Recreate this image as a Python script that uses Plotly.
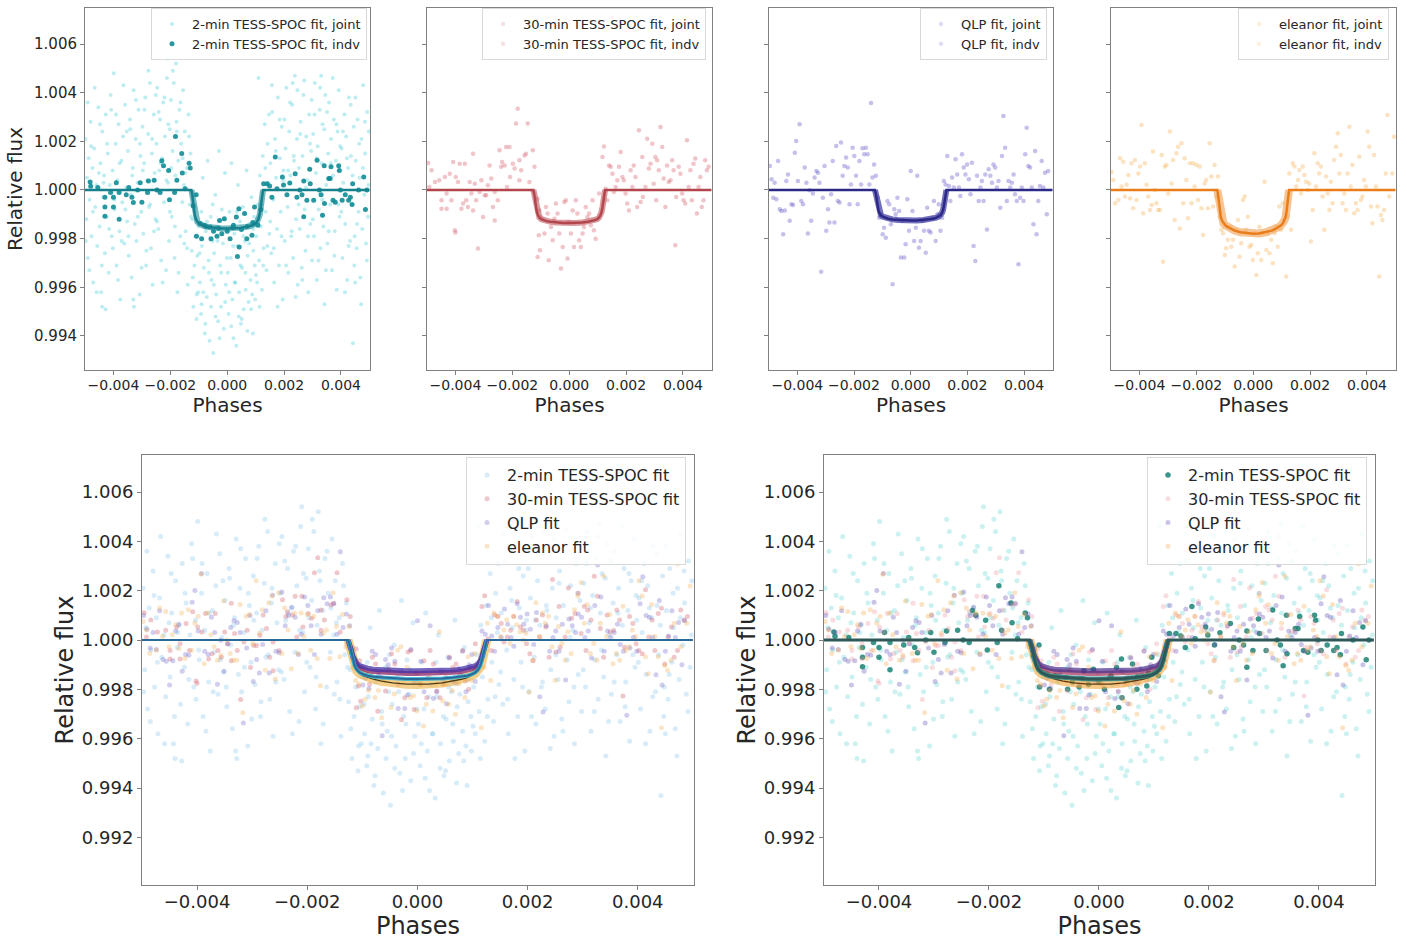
import plotly.graph_objects as go

# ---------------- data (phase, relative flux) ----------------
# 2-min TESS-SPOC, unbinned cloud
cloud2_phase = [
    -4.98e-3, -4.95e-3, -4.93e-3, -4.90e-3, -4.87e-3, -4.84e-3, -4.80e-3, -4.77e-3, -4.74e-3, -4.71e-3, -4.68e-3, -4.64e-3, -4.60e-3, -4.57e-3, -4.53e-3,
    -4.49e-3, -4.46e-3, -4.43e-3, -4.39e-3, -4.36e-3, -4.33e-3, -4.30e-3, -4.27e-3, -4.23e-3, -4.20e-3, -4.17e-3, -4.13e-3, -4.10e-3, -4.06e-3, -4.03e-3,
    -3.99e-3, -3.96e-3, -3.92e-3, -3.89e-3, -3.86e-3, -3.82e-3, -3.79e-3, -3.76e-3, -3.72e-3, -3.69e-3, -3.66e-3, -3.62e-3, -3.59e-3, -3.55e-3, -3.52e-3,
    -3.49e-3, -3.46e-3, -3.42e-3, -3.39e-3, -3.36e-3, -3.32e-3, -3.29e-3, -3.25e-3, -3.22e-3, -3.19e-3, -3.15e-3, -3.12e-3, -3.08e-3, -3.05e-3, -3.02e-3,
    -2.98e-3, -2.95e-3, -2.92e-3, -2.88e-3, -2.85e-3, -2.82e-3, -2.78e-3, -2.75e-3, -2.72e-3, -2.68e-3, -2.65e-3, -2.62e-3, -2.58e-3, -2.55e-3, -2.52e-3,
    -2.49e-3, -2.46e-3, -2.42e-3, -2.39e-3, -2.36e-3, -2.32e-3, -2.29e-3, -2.25e-3, -2.22e-3, -2.19e-3, -2.15e-3, -2.12e-3, -2.08e-3, -2.05e-3, -2.02e-3,
    -1.98e-3, -1.95e-3, -1.92e-3, -1.88e-3, -1.85e-3, -1.82e-3, -1.78e-3, -1.75e-3, -1.72e-3, -1.68e-3, -1.65e-3, -1.62e-3, -1.58e-3, -1.55e-3, -1.52e-3,
    -1.49e-3, -1.46e-3, -1.42e-3, -1.39e-3, -1.36e-3, -1.32e-3, -1.29e-3, -1.25e-3, -1.22e-3, -1.19e-3, -1.15e-3, -1.12e-3, -1.08e-3, -1.05e-3, -1.02e-3,
    -0.99e-3, -0.96e-3, -0.92e-3, -0.89e-3, -0.86e-3, -0.82e-3, -0.79e-3, -0.75e-3, -0.72e-3, -0.69e-3, -0.65e-3, -0.62e-3, -0.58e-3, -0.55e-3, -0.52e-3,
    -0.49e-3, -0.46e-3, -0.42e-3, -0.39e-3, -0.36e-3, -0.32e-3, -0.29e-3, -0.25e-3, -0.22e-3, -0.19e-3, -0.15e-3, -0.12e-3, -0.08e-3, -0.05e-3, -0.02e-3,
    0.02e-3, 0.05e-3, 0.08e-3, 0.12e-3, 0.15e-3, 0.18e-3, 0.22e-3, 0.25e-3, 0.28e-3, 0.32e-3, 0.35e-3, 0.38e-3, 0.42e-3, 0.45e-3, 0.48e-3,
    0.52e-3, 0.55e-3, 0.58e-3, 0.62e-3, 0.65e-3, 0.68e-3, 0.72e-3, 0.75e-3, 0.78e-3, 0.82e-3, 0.85e-3, 0.88e-3, 0.92e-3, 0.95e-3, 0.98e-3,
    1.02e-3, 1.05e-3, 1.08e-3, 1.12e-3, 1.15e-3, 1.18e-3, 1.22e-3, 1.25e-3, 1.28e-3, 1.32e-3, 1.35e-3, 1.38e-3, 1.42e-3, 1.45e-3, 1.48e-3,
    1.52e-3, 1.55e-3, 1.58e-3, 1.62e-3, 1.65e-3, 1.68e-3, 1.72e-3, 1.75e-3, 1.78e-3, 1.82e-3, 1.85e-3, 1.88e-3, 1.92e-3, 1.95e-3, 1.98e-3,
    2.02e-3, 2.05e-3, 2.08e-3, 2.12e-3, 2.15e-3, 2.18e-3, 2.22e-3, 2.25e-3, 2.28e-3, 2.32e-3, 2.35e-3, 2.38e-3, 2.42e-3, 2.45e-3, 2.48e-3,
    2.52e-3, 2.55e-3, 2.58e-3, 2.62e-3, 2.65e-3, 2.68e-3, 2.72e-3, 2.75e-3, 2.78e-3, 2.82e-3, 2.85e-3, 2.88e-3, 2.92e-3, 2.95e-3, 2.98e-3,
    3.02e-3, 3.05e-3, 3.08e-3, 3.12e-3, 3.15e-3, 3.18e-3, 3.22e-3, 3.25e-3, 3.28e-3, 3.32e-3, 3.35e-3, 3.38e-3, 3.42e-3, 3.45e-3, 3.48e-3,
    3.52e-3, 3.55e-3, 3.58e-3, 3.62e-3, 3.65e-3, 3.68e-3, 3.72e-3, 3.75e-3, 3.78e-3, 3.82e-3, 3.85e-3, 3.88e-3, 3.92e-3, 3.95e-3, 3.98e-3,
    4.02e-3, 4.05e-3, 4.08e-3, 4.12e-3, 4.15e-3, 4.18e-3, 4.22e-3, 4.25e-3, 4.28e-3, 4.32e-3, 4.35e-3, 4.38e-3, 4.42e-3, 4.45e-3, 4.48e-3,
    4.52e-3, 4.55e-3, 4.58e-3, 4.62e-3, 4.65e-3, 4.68e-3, 4.72e-3, 4.75e-3, 4.78e-3, 4.82e-3, 4.85e-3, 4.88e-3, 4.92e-3, 4.95e-3, 4.98e-3,
    -2.10e-3, -1.80e-3, 1.10e-3, 2.30e-3, 3.30e-3, -0.90e-3, 0.90e-3, -3.30e-3, 4.50e-3, -4.40e-3,
    -4.97e-3, -4.91e-3, -4.85e-3, -4.78e-3, -4.72e-3, -4.66e-3, -4.59e-3, -4.51e-3,
    -4.47e-3, -4.41e-3, -4.35e-3, -4.28e-3, -4.22e-3, -4.15e-3, -4.08e-3, -4.02e-3,
    -3.97e-3, -3.91e-3, -3.84e-3, -3.78e-3, -3.71e-3, -3.65e-3, -3.58e-3, -3.53e-3,
    -3.47e-3, -3.41e-3, -3.34e-3, -3.28e-3, -3.21e-3, -3.14e-3, -3.07e-3, -3.01e-3,
    -2.97e-3, -2.91e-3, -2.84e-3, -2.77e-3, -2.71e-3, -2.64e-3, -2.57e-3, -2.51e-3,
    -2.47e-3, -2.41e-3, -2.34e-3, -2.27e-3, -2.21e-3, -2.14e-3, -2.07e-3, -2.01e-3,
    -1.97e-3, -1.91e-3, -1.84e-3, -1.77e-3, -1.71e-3, -1.64e-3, -1.57e-3, -1.51e-3,
    -1.47e-3, -1.41e-3, -1.34e-3, -1.27e-3, -1.21e-3, -1.14e-3, -1.07e-3, -1.01e-3,
    -0.97e-3, -0.91e-3, -0.84e-3, -0.77e-3, -0.71e-3, -0.64e-3, -0.57e-3, -0.51e-3,
    -0.47e-3, -0.41e-3, -0.34e-3, -0.27e-3, -0.21e-3, -0.14e-3, -0.07e-3, -0.01e-3,
    0.01e-3, 0.07e-3, 0.14e-3, 0.21e-3, 0.27e-3, 0.34e-3, 0.41e-3, 0.47e-3,
    0.51e-3, 0.57e-3, 0.64e-3, 0.71e-3, 0.77e-3, 0.84e-3, 0.91e-3, 0.97e-3,
    1.01e-3, 1.07e-3, 1.14e-3, 1.21e-3, 1.27e-3, 1.34e-3, 1.41e-3, 1.47e-3,
    1.51e-3, 1.57e-3, 1.64e-3, 1.71e-3, 1.77e-3, 1.84e-3, 1.91e-3, 1.97e-3,
    2.01e-3, 2.07e-3, 2.14e-3, 2.21e-3, 2.27e-3, 2.34e-3, 2.41e-3, 2.47e-3,
    2.51e-3, 2.57e-3, 2.64e-3, 2.71e-3, 2.77e-3, 2.84e-3, 2.91e-3, 2.97e-3,
    3.01e-3, 3.07e-3, 3.14e-3, 3.21e-3, 3.27e-3, 3.34e-3, 3.41e-3, 3.47e-3,
    3.51e-3, 3.57e-3, 3.64e-3, 3.71e-3, 3.77e-3, 3.84e-3, 3.91e-3, 3.97e-3,
    4.01e-3, 4.07e-3, 4.14e-3, 4.21e-3, 4.27e-3, 4.34e-3, 4.41e-3, 4.47e-3,
    4.51e-3, 4.57e-3, 4.64e-3, 4.71e-3, 4.77e-3, 4.84e-3, 4.91e-3, 4.97e-3,
]
cloud2_flux = [
    1.0021, 0.9988, 1.0005, 0.9972, 1.0013, 0.9996, 1.0028, 0.9981, 1.0009, 0.9962, 1.0017, 0.9993, 1.0002, 0.9977, 1.0034,
    0.9985, 1.0011, 0.9958, 1.0024, 0.9997, 1.0006, 0.9974, 1.0031, 0.9989, 1.0015, 0.9966, 1.0002, 1.0039, 0.9981, 1.0008,
    1.0048, 0.9992, 1.0019, 0.9969, 1.0004, 1.0027, 0.9983, 0.9955, 1.0012, 0.9995, 1.0022, 0.9978, 1.0035, 1.0001, 0.9987,
    1.0016, 0.9973, 1.0029, 0.9998, 0.9964, 1.0009, 1.0041, 0.9986, 1.0021, 0.9979, 1.0003, 1.0033, 0.9957, 1.0014, 0.9991,
    1.0026, 0.9982, 1.0011, 1.0038, 0.9969, 1.0004, 1.0023, 0.9993, 1.0044, 0.9976, 1.0015, 0.9961, 1.0031, 1.0007, 0.9988,
    1.0019, 1.0042, 0.9984, 1.0008, 1.0029, 0.9971, 1.0013, 1.0036, 0.9995, 1.0022, 0.9967, 1.0046, 1.0003, 0.9979, 1.0025,
    1.0037, 0.9989, 1.0016, 1.0044, 0.9972, 1.0006, 1.0028, 0.9958, 1.0012, 1.0033, 0.9981, 1.0019, 0.9995, 1.0041, 1.0002,
    1.0024, 0.9983, 1.0009, 0.9961, 1.0031, 0.9994, 1.0015, 0.9975, 0.9988, 0.9952, 0.9969, 0.9981, 0.9947, 0.9973, 0.9958,
    0.9986, 0.9962, 0.9949, 0.9977, 1.0005, 0.9968, 0.9941, 0.9983, 0.9956, 1.0012, 0.9971, 0.9938, 0.9989, 0.9963, 0.9979,
    0.9933, 0.9974, 0.9998, 0.9957, 0.9985, 0.9946, 1.0016, 0.9969, 0.9952, 0.9992, 0.9978, 0.9943, 1.0007, 0.9961, 0.9984,
    0.9966, 0.9949, 0.9991, 0.9972, 1.0011, 0.9955, 0.9939, 0.9982, 0.9962, 0.9936, 0.9977, 1.0002, 0.9958, 0.9987, 0.9945,
    0.9968, 0.9993, 0.9951, 0.9979, 0.9959, 1.0008, 0.9973, 0.9954, 0.9986, 0.9963, 0.9997, 0.9957, 0.9975, 0.9989, 0.9955,
    0.9981, 0.9962, 0.9994, 0.9971, 1.0006, 0.9985, 0.9959, 1.0014, 0.9976, 1.0027, 0.9991, 0.9967, 1.0019, 1.0003, 0.9982,
    1.0011, 0.9974, 1.0032, 0.9996, 0.9962, 1.0021, 1.0005, 0.9984, 1.0038, 0.9969, 1.0013, 0.9991, 1.0026, 0.9955, 1.0008,
    0.9979, 1.0017, 1.0042, 0.9993, 0.9966, 1.0024, 1.0006, 0.9981, 1.0035, 0.9972, 1.0012, 1.0047, 0.9988, 1.0021, 0.9961,
    1.0009, 0.9984, 1.0028, 0.9968, 1.0014, 1.0039, 0.9992, 0.9975, 1.0022, 1.0004, 0.9958, 1.0031, 0.9986, 1.0016, 0.9971,
    1.0023, 0.9981, 1.0044, 1.0007, 0.9963, 1.0018, 0.9992, 1.0033, 0.9976, 1.0011, 1.0027, 0.9985, 0.9953, 1.0039, 1.0002,
    0.9978, 1.0015, 1.0036, 0.9994, 1.0021, 0.9967, 1.0006, 1.0029, 0.9983, 1.0012, 0.9959, 1.0024, 1.0041, 0.9989, 1.0008,
    1.0017, 0.9972, 1.0003, 1.0031, 0.9986, 1.0022, 0.9963, 1.0009, 1.0038, 0.9979, 1.0014, 0.9994, 0.9937, 1.0026, 0.9981,
    1.0012, 0.9976, 1.0029, 0.9991, 1.0005, 0.9964, 1.0021, 0.9984, 1.0043, 0.9998, 1.0015, 0.9978, 1.0032, 0.9989, 1.0024,
    1.0054, 1.0052, 1.0046, 1.0044, 1.0047, 0.9953, 0.9941, 0.9955, 0.9962, 0.9952,
    0.9979, 1.0036, 0.9967, 1.0018, 0.9991, 1.0042, 0.9958, 1.0007,
    1.0027, 0.9969, 1.0003, 0.9951, 1.0019, 0.9984, 1.0033, 0.9976,
    0.9996, 1.0031, 0.9963, 1.0011, 0.9979, 1.0043, 0.9992, 1.0024,
    0.9981, 1.0025, 1.0006, 0.9952, 1.0037, 0.9989, 1.0019, 0.9968,
    1.0008, 1.0033, 0.9975, 1.0049, 0.9994, 1.0021, 0.9983, 1.0039,
    0.9987, 1.0032, 1.0011, 0.9962, 1.0038, 1.0004, 1.0027, 0.9991,
    1.0009, 1.0049, 0.9985, 1.0024, 0.9966, 1.0036, 1.0013, 0.9978,
    1.0007, 0.9976, 1.0022, 0.9989, 0.9964, 0.9993, 0.9957, 0.9985,
    0.9974, 0.9991, 0.9958, 0.9945, 0.9987, 0.9966, 0.9952, 0.9994,
    0.9961, 0.9948, 0.9979, 0.9939, 0.9966, 0.9988, 0.9954, 0.9972,
    0.9983, 0.9958, 0.9944, 0.9977, 0.9962, 0.9991, 0.9948, 0.9969,
    0.9947, 0.9981, 0.9966, 0.9942, 0.9978, 0.9951, 0.9984, 0.9969,
    0.9965, 0.9988, 0.9952, 0.9994, 0.9969, 1.0009, 0.9977, 1.0031,
    0.9987, 1.0043, 0.9976, 1.0016, 0.9952, 1.0029, 0.9981, 1.0004,
    1.0029, 0.9969, 1.0008, 1.0036, 0.9983, 1.0014, 0.9956, 1.0041,
    0.9994, 1.0023, 0.9963, 1.0045, 1.0001, 0.9981, 1.0019, 1.0037,
    0.9988, 1.0031, 1.0013, 0.9971, 1.0042, 0.9996, 1.0025, 0.9967,
    1.0032, 0.9983, 1.0011, 1.0046, 0.9973, 1.0027, 0.9994, 1.0018,
    0.9991, 1.0024, 0.9958, 1.0013, 0.9977, 1.0035, 1.0006, 0.9969,
    1.0038, 0.9986, 1.0019, 0.9953, 1.0009, 1.0028, 0.9971, 1.0002,
]

# 2-min TESS-SPOC, binned (individual fit points)
bin2_phase = [
    -4.82e-3, -4.80e-3, -4.55e-3, -4.30e-3, -4.30e-3, -4.30e-3, -4.10e-3, -4.00e-3, -4.00e-3, -3.90e-3,
    -3.80e-3, -3.80e-3, -3.55e-3, -3.46e-3, -3.35e-3, -3.30e-3, -3.15e-3, -3.06e-3, -3.00e-3, -2.77e-3,
    -2.80e-3, -2.57e-3, -2.47e-3, -2.36e-3, -2.30e-3, -2.24e-3, -2.06e-3, -2.03e-3, -1.85e-3, -1.82e-3,
    -1.77e-3, -1.60e-3, -1.58e-3, -1.48e-3, -1.34e-3, -1.30e-3, -1.09e-3, -1.08e-3, -0.90e-3, -0.74e-3,
    -0.57e-3, -0.48e-3, -0.36e-3, -0.27e-3, -0.19e-3, -0.10e-3, 0.00e-3, 0.10e-3, 0.22e-3, 0.32e-3,
    0.41e-3, 0.42e-3, 0.36e-3, 0.61e-3, 0.69e-3, 0.87e-3, 0.96e-3, 1.08e-3, 1.28e-3, 1.40e-3,
    1.49e-3, 1.57e-3, 1.69e-3, 1.75e-3, 1.94e-3, 1.98e-3, 2.10e-3, 2.20e-3, 2.39e-3, 2.45e-3,
    2.55e-3, 2.63e-3, 2.69e-3, 2.69e-3, 2.80e-3, 2.90e-3, 2.92e-3, 3.04e-3, 3.16e-3, 3.24e-3,
    3.30e-3, 3.35e-3, 3.41e-3, 3.42e-3, 3.57e-3, 3.62e-3, 3.65e-3, 3.72e-3, 3.80e-3, 3.92e-3,
    3.94e-3, 3.98e-3, 4.04e-3, 4.15e-3, 4.27e-3, 4.33e-3, 4.39e-3, 4.41e-3, 4.62e-3, 4.80e-3,
    4.86e-3, 4.91e-3,
    -0.95e-3, -0.80e-3, -0.60e-3, -0.30e-3, 0.20e-3, 0.50e-3, 0.70e-3, 0.90e-3, -1.20e-3, 1.18e-3,
]
bin2_flux = [
    1.00033, 1.00015, 1.0001, 0.9997, 0.9993, 0.99892, 0.9999, 0.9997, 0.9993, 1.0003,
    0.9999, 0.9988, 0.9998, 1.0001, 0.9997, 0.99948, 1.0, 1.0003, 0.9995, 1.00037,
    0.9999, 1.0004, 1.0, 0.9999, 1.0012, 1.001, 1.0008, 0.9996, 0.9999, 1.0022,
    1.0004, 1.0015, 1.0007, 1.00005, 1.0011, 1.0009, 0.9998, 0.9981, 0.998, 0.9985,
    0.998, 0.9983, 0.9981, 0.99875, 0.9982, 0.99882, 0.9983, 0.998, 0.99855, 0.99889,
    0.99923, 0.99766, 0.99727, 0.99903, 0.998, 0.99814, 0.9993, 0.99855, 1.00026, 1.00026,
    1.00016, 0.9997, 1.00136, 1.00005, 1.00053, 1.0002, 0.9998, 1.00029, 1.00067, 0.9997,
    1.0, 0.9998, 0.9989, 1.00037, 0.99958, 1.00085, 1.00026, 0.99958, 1.00122, 1.0,
    0.9998, 0.99896, 1.001, 0.99944, 1.00047, 1.00047, 1.00095, 0.99958, 0.9995, 1.001,
    1.0008, 1.0, 0.99958, 0.9998, 0.99958, 0.9997, 0.9994, 1.00026, 1.0, 1.00053,
    0.9992, 1.0,
    0.99862, 0.99855, 0.99848, 0.99843, 0.99846, 0.99838, 0.9985, 0.99866, 0.99935, 0.9992,
]

# 30-min TESS-SPOC
m30_phase = [
    -4.96e-3, -4.84e-3, -4.92e-3, -4.72e-3, -4.57e-3, -4.49e-3, -4.49e-3, -4.37e-3, -4.31e-3, -4.31e-3,
    -4.20e-3, -4.14e-3, -4.08e-3, -4.02e-3, -4.00e-3, -3.99e-3, -3.91e-3, -3.85e-3, -3.79e-3, -3.73e-3,
    -3.67e-3, -3.62e-3, -3.56e-3, -3.50e-3, -3.44e-3, -3.38e-3, -3.38e-3, -3.32e-3, -3.27e-3, -3.21e-3,
    -3.15e-3, -3.09e-3, -3.03e-3, -2.97e-3, -2.92e-3, -2.86e-3, -2.80e-3, -2.74e-3, -2.68e-3, -2.62e-3,
    -2.62e-3, -2.51e-3, -2.45e-3, -2.39e-3, -2.36e-3, -2.27e-3, -2.22e-3, -2.19e-3, -2.10e-3, -2.08e-3,
    -1.98e-3, -1.92e-3, -1.87e-3, -1.81e-3, -1.75e-3, -1.75e-3, -1.69e-3, -1.57e-3, -1.52e-3, -1.46e-3,
    -1.40e-3, -1.28e-3, -1.22e-3, -1.11e-3, -1.05e-3, -0.99e-3, -1.07e-3, -1.11e-3, -1.03e-3, -0.87e-3,
    -0.82e-3, -0.76e-3, -0.72e-3, -0.64e-3, -0.58e-3, -0.52e-3, -0.47e-3, -0.41e-3, -0.35e-3, -0.29e-3,
    -0.23e-3, -0.17e-3, -0.12e-3, -0.06e-3, -0.02e-3, 0.06e-3, 0.12e-3, 0.17e-3, 0.23e-3, 0.29e-3,
    0.35e-3, 0.41e-3, 0.47e-3, 0.52e-3, 0.58e-3, 0.64e-3, 0.70e-3, 0.76e-3, 0.82e-3, 0.87e-3,
    0.93e-3, 1.05e-3, 1.17e-3, 1.22e-3, 1.28e-3, 1.34e-3, 1.40e-3, 1.46e-3, 1.52e-3, 1.57e-3,
    1.63e-3, 1.69e-3, 1.75e-3, 1.81e-3, 1.87e-3, 1.92e-3, 1.98e-3, 2.04e-3, 2.10e-3, 2.16e-3,
    2.22e-3, 2.27e-3, 2.33e-3, 2.39e-3, 2.45e-3, 2.51e-3, 2.57e-3, 2.59e-3, 2.68e-3, 2.74e-3,
    2.80e-3, 2.86e-3, 2.92e-3, 2.97e-3, 3.03e-3, 3.06e-3, 3.09e-3, 3.15e-3, 3.21e-3, 3.27e-3,
    3.32e-3, 3.38e-3, 3.44e-3, 3.50e-3, 3.56e-3, 3.62e-3, 3.67e-3, 3.73e-3, 3.76e-3, 3.85e-3,
    3.91e-3, 3.97e-3, 4.02e-3, 4.08e-3, 4.14e-3, 4.20e-3, 4.26e-3, 4.31e-3, 4.37e-3, 4.43e-3,
    4.49e-3, 4.55e-3, 4.61e-3, 4.66e-3, 4.72e-3, 4.78e-3, 4.84e-3, 4.90e-3,
]
m30_flux = [
    1.00111, 1.00081, 1.00012, 1.00033, 1.0004, 0.99958, 0.99923, 1.00053, 0.99985, 0.99923,
    1.00067, 0.99958, 1.00115, 0.99834, 0.99825, 1.00053, 1.00033, 1.00108, 0.99923, 0.99944,
    1.00108, 0.99958, 0.9993, 1.00033, 0.99985, 1.00149, 0.99916, 1.00026, 0.99958, 0.99759,
    0.99992, 1.0004, 0.99889, 0.99978, 0.99978, 1.00019, 1.00101, 1.00047, 0.9993, 0.99875,
    0.99992, 0.99958, 1.00163, 1.00095, 1.00115, 1.00101, 1.00177, 1.00012, 1.00177, 1.00053,
    1.00108, 1.00088, 1.00273, 1.00334, 1.0004, 1.00122, 1.00081, 1.00142, 1.00149, 1.00273,
    1.00033, 1.00163, 1.00095, 0.99964, 0.99916, 0.99889, 0.99814, 0.99725, 0.99752, 0.99821,
    0.9993, 0.99903, 0.99711, 0.99848, 0.99793, 0.99882, 0.99944, 0.99903, 0.99821, 0.99677,
    0.99766, 0.99951, 0.99958, 0.99718, 0.99868, 0.99821, 0.99916, 0.99766, 0.99958, 0.99903,
    0.99793, 0.99766, 0.99821, 0.99848, 0.9993, 0.99889, 0.99903, 0.99855, 0.99958, 0.99834,
    0.998, 0.99985, 1.00136, 1.00179, 1.00005, 0.99958, 1.00101, 1.00095, 1.00067, 0.99992,
    1.00012, 1.0004, 1.00095, 1.00156, 1.00053, 1.0004, 0.99985, 0.99944, 0.99916, 1.00081,
    1.00012, 1.00101, 1.00053, 0.9993, 1.00245, 0.99951, 1.00136, 0.99971, 1.00012, 1.00211,
    1.00088, 1.00108, 1.0019, 1.00026, 1.00136, 0.99958, 1.00122, 1.00081, 1.00259, 1.00177,
    1.00047, 0.9993, 1.00101, 1.00033, 1.0004, 1.00122, 1.00081, 0.99773, 0.99971, 1.00095,
    1.00067, 0.99985, 0.99958, 0.99944, 1.00204, 1.00012, 1.00081, 0.99958, 1.00108, 1.00129,
    0.99903, 1.00012, 1.00053, 0.9993, 0.99958, 1.00122, 1.00081, 1.00095,
]

# QLP
qlp_phase = [
    -4.97e-3, -4.91e-3, -4.85e-3, -4.80e-3, -4.74e-3, -4.68e-3, -4.62e-3, -4.56e-3, -4.50e-3, -4.44e-3,
    -4.39e-3, -4.33e-3, -4.27e-3, -4.21e-3, -4.15e-3, -4.09e-3, -4.04e-3, -3.98e-3, -3.92e-3, -3.86e-3,
    -3.80e-3, -3.74e-3, -3.68e-3, -3.63e-3, -3.57e-3, -3.51e-3, -3.45e-3, -3.39e-3, -3.33e-3, -3.27e-3,
    -3.22e-3, -3.16e-3, -3.10e-3, -3.04e-3, -2.98e-3, -2.92e-3, -2.87e-3, -2.81e-3, -2.75e-3, -2.69e-3,
    -2.63e-3, -2.57e-3, -2.51e-3, -2.46e-3, -2.40e-3, -2.34e-3, -2.28e-3, -2.22e-3, -2.16e-3, -2.11e-3,
    -2.05e-3, -1.99e-3, -1.93e-3, -1.87e-3, -1.81e-3, -1.75e-3, -1.70e-3, -1.64e-3, -1.58e-3, -1.52e-3,
    -1.46e-3, -1.40e-3, -1.35e-3, -1.29e-3, -1.23e-3, -1.17e-3, -1.11e-3, -1.05e-3, -0.99e-3, -0.94e-3,
    -0.88e-3, -0.82e-3, -0.76e-3, -0.70e-3, -0.64e-3, -0.58e-3, -0.53e-3, -0.47e-3, -0.41e-3, -0.35e-3,
    -0.29e-3, -0.23e-3, -0.18e-3, -0.12e-3, -0.06e-3, 0.00e-3, 0.06e-3, 0.12e-3, 0.18e-3, 0.23e-3,
    0.29e-3, 0.35e-3, 0.41e-3, 0.47e-3, 0.53e-3, 0.58e-3, 0.64e-3, 0.70e-3, 0.76e-3, 0.82e-3,
    0.88e-3, 0.94e-3, 0.99e-3, 1.05e-3, 1.11e-3, 1.17e-3, 1.23e-3, 1.29e-3, 1.35e-3, 1.40e-3,
    1.46e-3, 1.52e-3, 1.58e-3, 1.64e-3, 1.70e-3, 1.75e-3, 1.81e-3, 1.87e-3, 1.93e-3, 1.99e-3,
    2.05e-3, 2.11e-3, 2.16e-3, 2.22e-3, 2.28e-3, 2.34e-3, 2.40e-3, 2.46e-3, 2.51e-3, 2.57e-3,
    2.63e-3, 2.69e-3, 2.75e-3, 2.81e-3, 2.87e-3, 2.92e-3, 2.98e-3, 3.04e-3, 3.10e-3, 3.16e-3,
    3.22e-3, 3.27e-3, 3.33e-3, 3.39e-3, 3.45e-3, 3.51e-3, 3.57e-3, 3.63e-3, 3.68e-3, 3.74e-3,
    3.80e-3, 3.86e-3, 3.92e-3, 3.98e-3, 4.04e-3, 4.09e-3, 4.15e-3, 4.21e-3, 4.27e-3, 4.33e-3,
    4.39e-3, 4.44e-3, 4.50e-3, 4.56e-3, 4.62e-3, 4.68e-3, 4.74e-3, 4.80e-3, 4.85e-3,
]
qlp_flux = [
    1.00099, 1.00044, 0.99968, 1.0003, 0.99962, 1.00119, 0.99921, 0.99914, 0.99818, 0.99916,
    1.00037, 1.00064, 0.99873, 0.99941, 0.99938, 1.00153, 1.00201, 1.00037, 1.0027, 0.99955,
    0.99941, 1.00092, 1.0003, 0.99821, 0.99999, 0.99873, 0.99985, 1.00051, 1.00078, 1.00071,
    1.0003, 0.99664, 0.99968, 1.00099, 0.99832, 0.99921, 0.99866, 0.99982, 1.00119, 0.99866,
    1.00181, 0.99955, 0.99948, 1.00195, 1.00058, 1.00099, 1.00133, 1.00092, 0.99941, 1.00023,
    1.00174, 1.0014, 1.00058, 0.99941, 1.00119, 1.00023, 1.00171, 1.00147, 1.00174, 1.00147,
    1.00023, 1.00358, 1.00051, 1.00105, 1.00058, 0.99968, 0.99886, 0.999, 0.99818, 0.99845,
    0.99804, 0.99955, 0.99941, 0.99859, 0.99612, 0.99921, 0.999, 0.99968, 0.99914, 0.99722,
    0.99873, 0.99722, 0.99777, 0.99962, 0.99832, 1.00078, 0.99914, 0.9979, 0.99845, 1.00058,
    0.99763, 0.9979, 0.99873, 0.99832, 0.99742, 0.99927, 0.99832, 0.99825, 0.99886, 0.99955,
    0.9979, 0.999, 0.99941, 0.99832, 0.99886, 1.00037, 1.00023, 1.0014, 1.00016, 0.99955,
    1.00051, 1.0001, 1.00126, 1.00064, 1.0001, 0.99975, 1.00147, 1.00092, 1.00064, 1.00105,
    1.00044, 0.99982, 1.00112, 0.9977, 0.99708, 1.00058, 0.99955, 1.0001, 1.00037, 0.99955,
    1.00064, 0.99838, 1.00085, 1.00058, 1.0003, 1.00105, 1.00092, 1.0001, 1.00037, 0.99927,
    1.0014, 1.00304, 1.00174, 0.99955, 1.00037, 1.0001, 1.0003, 1.00064, 0.99982, 0.99955,
    0.99695, 0.99968, 1.0001, 0.99955, 1.00147, 1.00256, 1.00099, 1.00092, 1.0001, 0.99859,
    1.0016, 0.99818, 0.99955, 1.00016, 1.00119, 1.0001, 1.00071, 0.999, 1.00078,
]

# eleanor
ele_phase = [
    -4.98e-3, -4.92e-3, -4.86e-3, -4.74e-3, -4.68e-3, -4.63e-3, -4.57e-3, -4.51e-3, -4.45e-3, -4.39e-3,
    -4.33e-3, -4.28e-3, -4.22e-3, -4.16e-3, -4.10e-3, -4.04e-3, -3.98e-3, -3.93e-3, -3.87e-3, -3.81e-3,
    -3.75e-3, -3.69e-3, -3.63e-3, -3.57e-3, -3.52e-3, -3.46e-3, -3.40e-3, -3.34e-3, -3.28e-3, -3.22e-3,
    -3.17e-3, -3.11e-3, -3.05e-3, -2.99e-3, -2.93e-3, -2.87e-3, -2.82e-3, -2.76e-3, -2.70e-3, -2.64e-3,
    -2.58e-3, -2.52e-3, -2.46e-3, -2.41e-3, -2.35e-3, -2.29e-3, -2.23e-3, -2.17e-3, -2.11e-3, -2.06e-3,
    -2.00e-3, -1.94e-3, -1.88e-3, -1.82e-3, -1.76e-3, -1.71e-3, -1.65e-3, -1.59e-3, -1.53e-3, -1.47e-3,
    -1.41e-3, -1.36e-3, -1.30e-3, -1.24e-3, -1.18e-3, -1.12e-3, -1.06e-3, -1.00e-3, -0.95e-3, -0.89e-3,
    -0.83e-3, -0.77e-3, -0.71e-3, -0.65e-3, -0.60e-3, -0.54e-3, -0.48e-3, -0.42e-3, -0.36e-3, -0.30e-3,
    -0.25e-3, -0.19e-3, -0.13e-3, -0.07e-3, -0.01e-3, 0.05e-3, 0.11e-3, 0.16e-3, 0.22e-3, 0.28e-3,
    0.34e-3, 0.40e-3, 0.46e-3, 0.51e-3, 0.57e-3, 0.63e-3, 0.69e-3, 0.75e-3, 0.81e-3, 0.86e-3,
    0.92e-3, 0.98e-3, 1.04e-3, 1.10e-3, 1.16e-3, 1.21e-3, 1.27e-3, 1.33e-3, 1.39e-3, 1.45e-3,
    1.51e-3, 1.57e-3, 1.62e-3, 1.68e-3, 1.74e-3, 1.80e-3, 1.86e-3, 1.92e-3, 1.97e-3, 2.03e-3,
    2.09e-3, 2.15e-3, 2.21e-3, 2.27e-3, 2.32e-3, 2.38e-3, 2.44e-3, 2.50e-3, 2.56e-3, 2.62e-3,
    2.68e-3, 2.73e-3, 2.79e-3, 2.85e-3, 2.91e-3, 2.97e-3, 3.03e-3, 3.08e-3, 3.14e-3, 3.20e-3,
    3.26e-3, 3.32e-3, 3.38e-3, 3.43e-3, 3.49e-3, 3.55e-3, 3.61e-3, 3.67e-3, 3.73e-3, 3.79e-3,
    3.84e-3, 3.90e-3, 3.96e-3, 4.02e-3, 4.08e-3, 4.14e-3, 4.19e-3, 4.25e-3, 4.31e-3, 4.37e-3,
    4.43e-3, 4.49e-3, 4.54e-3, 4.60e-3, 4.66e-3, 4.72e-3, 4.78e-3, 4.89e-3, 4.95e-3,
]
ele_flux = [
    1.00075, 1.00041, 0.99945, 0.99959, 1.0013, 1.00014, 1.00116, 0.99973, 1.00021, 1.00062,
    0.99966, 1.0011, 0.99925, 1.00123, 0.99959, 1.00068, 1.00096, 1.00267, 0.99904, 1.0011,
    1.00021, 0.99973, 0.99918, 0.99938, 1.00158, 1.0, 0.99945, 0.99918, 0.99918, 1.00144,
    0.99705, 1.00096, 1.00103, 0.99986, 1.0024, 1.00027, 1.00123, 0.99877, 1.00151, 1.00178,
    0.99842, 1.00192, 0.99945, 1.0013, 1.00041, 0.99884, 1.0011, 0.99945, 1.0011, 1.00014,
    1.00103, 0.99959, 1.00096, 0.99925, 0.99815, 1.00027, 1.00041, 0.99925, 1.00192, 1.00055,
    0.99932, 1.00103, 0.99973, 1.00055, 0.9989, 0.99836, 0.99822, 0.99733, 0.9976, 0.99795,
    0.99849, 0.99767, 0.99795, 0.99685, 0.99836, 0.99877, 0.99726, 0.99781, 0.99959, 0.99973,
    0.99836, 0.9989, 0.99767, 0.99774, 0.99712, 0.99822, 0.99651, 0.9974, 0.99849, 0.99712,
    0.99822, 1.00034, 0.99753, 0.99822, 0.9974, 0.99795, 0.99699, 0.99822, 0.99849, 0.99767,
    0.99932, 0.99836, 0.99945, 0.99877, 0.99644, 0.9989, 1.00068, 0.99836, 1.0011, 1.00096,
    1.00014, 1.00041, 1.00082, 0.99986, 1.00096, 1.00062, 1.00034, 1.0, 1.00027, 0.99788,
    0.99918, 1.00151, 1.00014, 1.0011, 1.00068, 1.00096, 0.99973, 0.99836, 1.00055, 0.99986,
    0.99918, 1.00034, 0.99945, 1.00123, 1.00178, 1.00233, 1.00068, 1.00144, 0.99945, 0.99986,
    0.99918, 1.00068, 1.0026, 1.00014, 1.00103, 0.99904, 0.99945, 0.99918, 1.00137, 0.99959,
    0.99973, 1.00041, 1.00014, 1.0024, 1.00178, 0.99932, 0.99863, 1.00144, 1.00014, 0.99932,
    0.99644, 0.99897, 0.99877, 0.99918, 1.00068, 1.00308, 0.99973, 1.00068, 1.00219,
]

# transit models (median fits)
model_phase = [-5.0e-3, -1.26e-3, -1.23e-3, -1.20e-3, -1.17e-3, -1.14e-3, -1.10e-3, -1.05e-3, -0.98e-3, -0.90e-3,
               -0.80e-3, -0.65e-3, -0.45e-3, -0.20e-3, 0.0, 0.20e-3, 0.45e-3, 0.65e-3, 0.80e-3, 0.90e-3,
               0.98e-3, 1.05e-3, 1.10e-3, 1.14e-3, 1.17e-3, 1.20e-3, 1.23e-3, 1.26e-3, 5.0e-3]
model_2min = [1.0, 1.0, 0.99981, 0.99949, 0.99918, 0.99896, 0.99880, 0.99869, 0.99861, 0.99855,
              0.99851, 0.99848, 0.99844, 0.99842, 0.99842, 0.99842, 0.99844, 0.99848, 0.99851, 0.99855,
              0.99861, 0.99869, 0.99880, 0.99896, 0.99918, 0.99949, 0.99981, 1.0, 1.0]
model_30min = [1.0, 1.0, 0.99984, 0.99956, 0.99929, 0.99910, 0.99897, 0.99887, 0.99880, 0.99876,
               0.99872, 0.99869, 0.99866, 0.99864, 0.99864, 0.99864, 0.99866, 0.99869, 0.99872, 0.99876,
               0.99880, 0.99887, 0.99897, 0.99910, 0.99929, 0.99956, 0.99984, 1.0, 1.0]
model_qlp = [1.0, 1.0, 0.99985, 0.99960, 0.99935, 0.99917, 0.99905, 0.99896, 0.99890, 0.99886,
             0.99882, 0.99879, 0.99877, 0.99875, 0.99875, 0.99875, 0.99877, 0.99879, 0.99882, 0.99886,
             0.99890, 0.99896, 0.99905, 0.99917, 0.99935, 0.99960, 0.99985, 1.0, 1.0]
model_ele = [1.0, 1.0, 0.99975, 0.99940, 0.99910, 0.99890, 0.99875, 0.99864, 0.99855, 0.99848,
             0.99841, 0.99833, 0.99826, 0.99821, 0.99820, 0.99821, 0.99826, 0.99833, 0.99841, 0.99848,
             0.99855, 0.99864, 0.99875, 0.99890, 0.99910, 0.99940, 0.99975, 1.0, 1.0]

x_tickvals = [-0.004, -0.002, 0.0, 0.002, 0.004]
x_ticktext = ["\u22120.004", "\u22120.002", "0.000", "0.002", "0.004"]
y_top_ticks = [0.994, 0.996, 0.998, 1.000, 1.002, 1.004, 1.006]
y_bot_ticks = [0.992, 0.994, 0.996, 0.998, 1.000, 1.002, 1.004, 1.006]

# ---------------- figure ----------------
W, H = 1407, 942
FONT = "DejaVu Sans"
TXT = "#262626"
FRAME = "#808080"

fig = go.Figure()


def pts(ax, x, y, color, size, name=None, legend="legend", show=False):
    xa, ya = ax
    fig.add_trace(go.Scatter(x=x, y=y, mode="markers", name=name, showlegend=show, legend=legend,
                             marker=dict(color=color, size=size, line=dict(width=0)),
                             xaxis=xa, yaxis=ya, hoverinfo="skip"))


def line(ax, x, y, color, width, opacity=1.0):
    xa, ya = ax
    fig.add_trace(go.Scatter(x=x, y=y, mode="lines", showlegend=False,
                             line=dict(color=color, width=width), opacity=opacity,
                             xaxis=xa, yaxis=ya, hoverinfo="skip"))


A1, A2, A3, A4, A5, A6 = ("x", "y"), ("x2", "y2"), ("x3", "y3"), ("x4", "y4"), ("x5", "y5"), ("x6", "y6")
inner = slice(1, 28)

# Panel 1: 2-min
pts(A1, cloud2_phase, cloud2_flux, "rgba(40,195,210,0.3)", 4, "2-min TESS-SPOC fit, joint", "legend", True)
pts(A1, bin2_phase, bin2_flux, "rgba(16,140,150,0.9)", 5, "2-min TESS-SPOC fit, indv", "legend", True)
line(A1, model_phase[inner], model_2min[inner], "#1a8c99", 6, 0.6)
line(A1, model_phase, model_2min, "#17808d", 2.5)

# Panel 2: 30-min
pts(A2, m30_phase, m30_flux, "rgba(215,95,110,0.2)", 4.5, "30-min TESS-SPOC fit, joint", "legend2", True)
pts(A2, m30_phase, m30_flux, "rgba(215,95,110,0.2)", 4.5, "30-min TESS-SPOC fit, indv", "legend2", True)
line(A2, model_phase[inner], model_30min[inner], "#c05a60", 6, 0.6)
line(A2, model_phase, model_30min, "#b3454c", 2.5)

# Panel 3: QLP
pts(A3, qlp_phase, qlp_flux, "rgba(95,85,200,0.2)", 4.5, "QLP fit, joint", "legend3", True)
pts(A3, qlp_phase, qlp_flux, "rgba(95,85,200,0.2)", 4.5, "QLP fit, indv", "legend3", True)
line(A3, model_phase[inner], model_qlp[inner], "#3a36a0", 6, 0.7)
line(A3, model_phase, model_qlp, "#2b2886", 2.5)

# Panel 4: eleanor
pts(A4, ele_phase, ele_flux, "rgba(245,165,60,0.17)", 4.5, "eleanor fit, joint", "legend4", True)
pts(A4, ele_phase, ele_flux, "rgba(245,165,60,0.17)", 4.5, "eleanor fit, indv", "legend4", True)
line(A4, model_phase[inner], model_ele[inner], "#f2a050", 8, 0.6)
line(A4, model_phase, model_ele, "#e97d1a", 2.5)

# Panel 5: all, joint fit
pts(A5, cloud2_phase, cloud2_flux, "rgba(110,185,230,0.28)", 5, "2-min TESS-SPOC fit", "legend5", True)
pts(A5, m30_phase, m30_flux, "rgba(210,95,105,0.35)", 5, "30-min TESS-SPOC fit", "legend5", True)
pts(A5, qlp_phase, qlp_flux, "rgba(100,90,200,0.3)", 5, "QLP fit", "legend5", True)
pts(A5, ele_phase, ele_flux, "rgba(240,170,70,0.3)", 5, "eleanor fit", "legend5", True)
line(A5, model_phase[inner], model_ele[inner], "#f0b040", 9, 0.6)
line(A5, model_phase[inner], model_ele[inner], "#4d3d14", 1.3)
line(A5, model_phase[inner], model_30min[inner], "#8a2262", 5, 0.75)
line(A5, model_phase[inner], model_qlp[inner], "#4632a8", 5, 0.75)
line(A5, model_phase[inner], model_2min[inner], "#2cb5d8", 4, 0.85)
line(A5, model_phase, model_2min, "#2a6a98", 2)

# Panel 6: all, individual fits
pts(A6, cloud2_phase, cloud2_flux, "rgba(70,205,200,0.28)", 5)
pts(A6, bin2_phase, bin2_flux, "rgba(25,130,115,0.85)", 5.5, "2-min TESS-SPOC fit", "legend6", True)
pts(A6, m30_phase, m30_flux, "rgba(235,140,150,0.3)", 5, "30-min TESS-SPOC fit", "legend6", True)
pts(A6, qlp_phase, qlp_flux, "rgba(105,85,185,0.35)", 5, "QLP fit", "legend6", True)
pts(A6, ele_phase, ele_flux, "rgba(245,170,75,0.33)", 5, "eleanor fit", "legend6", True)
line(A6, model_phase[inner], model_ele[inner], "#f5a53a", 9, 0.6)
line(A6, model_phase[inner], model_ele[inner], "#5a3a10", 1.3)
line(A6, model_phase[inner], model_30min[inner], "#a03058", 5, 0.7)
line(A6, model_phase[inner], model_qlp[inner], "#4a3090", 5, 0.7)
line(A6, model_phase[inner], model_2min[inner], "#2a8c8a", 5, 0.85)
line(A6, model_phase, model_2min, "#2f5858", 3)


def dom_x(x0, x1):
    return [x0 / W, x1 / W]


def dom_y(y0, y1):
    return [1 - y1 / H, 1 - y0 / H]


def xaxis(dom, anchor, rng, fs, tfs, standoff, lshift):
    return dict(domain=dom, anchor=anchor, range=rng, showline=True, linecolor=FRAME, linewidth=1,
                mirror=True, ticks="outside", ticklen=4, tickcolor=FRAME, showgrid=False, zeroline=False,
                tickvals=x_tickvals, ticktext=x_ticktext, ticklabelstandoff=lshift, tickangle=0,
                automargin=False,
                tickfont=dict(family=FONT, size=fs, color=TXT),
                title=dict(text="Phases", font=dict(family=FONT, size=tfs, color=TXT), standoff=standoff))


def yaxis(dom, anchor, rng, ticks, fs, labels, title=None, tfs=20, standoff=8):
    d = dict(domain=dom, anchor=anchor, range=rng, showline=True, linecolor=FRAME, linewidth=1,
             mirror=True, ticks="outside", ticklen=4, tickcolor=FRAME, showgrid=False, zeroline=False,
             tickvals=ticks, ticktext=["%.3f" % v for v in ticks], showticklabels=labels,
             automargin=False,
             tickfont=dict(family=FONT, size=fs, color=TXT))
    if title:
        d["title"] = dict(text=title, font=dict(family=FONT, size=tfs, color=TXT), standoff=standoff)
    return d


top_y = dom_y(8, 370)
bot_y = dom_y(455, 885)
top_rng = [0.9926, 1.00748]
bot_rng = [0.99007, 1.0075]
xr = [-0.005, 0.00502]


def legend(xr_px, yt_px, fs):
    return dict(x=xr_px / W, y=1 - yt_px / H, xanchor="right", yanchor="top",
                bgcolor="rgba(255,255,255,0.85)", bordercolor="#d9d9d9", borderwidth=1,
                font=dict(family=FONT, size=fs, color=TXT), itemsizing="trace")


fig.update_layout(
    width=W, height=H, margin=dict(l=0, r=0, t=0, b=0, autoexpand=False),
    paper_bgcolor="white", plot_bgcolor="white",
    font=dict(family=FONT, color=TXT),
    xaxis=xaxis(dom_x(85, 370), "y", xr, 14, 20, 1, -2),
    xaxis2=xaxis(dom_x(427, 712), "y2", xr, 14, 20, 1, -2),
    xaxis3=xaxis(dom_x(769, 1053), "y3", xr, 14, 20, 1, -2),
    xaxis4=xaxis(dom_x(1111, 1396), "y4", xr, 14, 20, 1, -2),
    xaxis5=xaxis(dom_x(142, 694), "y5", xr, 18, 24, 0, -4),
    xaxis6=xaxis(dom_x(824, 1375), "y6", xr, 18, 24, 0, -4),
    yaxis=yaxis(top_y, "x", top_rng, y_top_ticks, 15, True, "Relative flux", 20, 6),
    yaxis2=yaxis(top_y, "x2", top_rng, y_top_ticks, 15, False),
    yaxis3=yaxis(top_y, "x3", top_rng, y_top_ticks, 15, False),
    yaxis4=yaxis(top_y, "x4", top_rng, y_top_ticks, 15, False),
    yaxis5=yaxis(bot_y, "x5", bot_rng, y_bot_ticks, 18, True, "Relative flux", 24, 1),
    yaxis6=yaxis(bot_y, "x6", bot_rng, y_bot_ticks, 18, True, "Relative flux", 24, 1),
    legend=legend(367, 8, 13),
    legend2=legend(706, 8, 13),
    legend3=legend(1047, 8, 13),
    legend4=legend(1389, 8, 13),
    legend5=legend(686, 457, 16),
    legend6=legend(1367, 457, 16),
)

fig.write_html("out.html")
